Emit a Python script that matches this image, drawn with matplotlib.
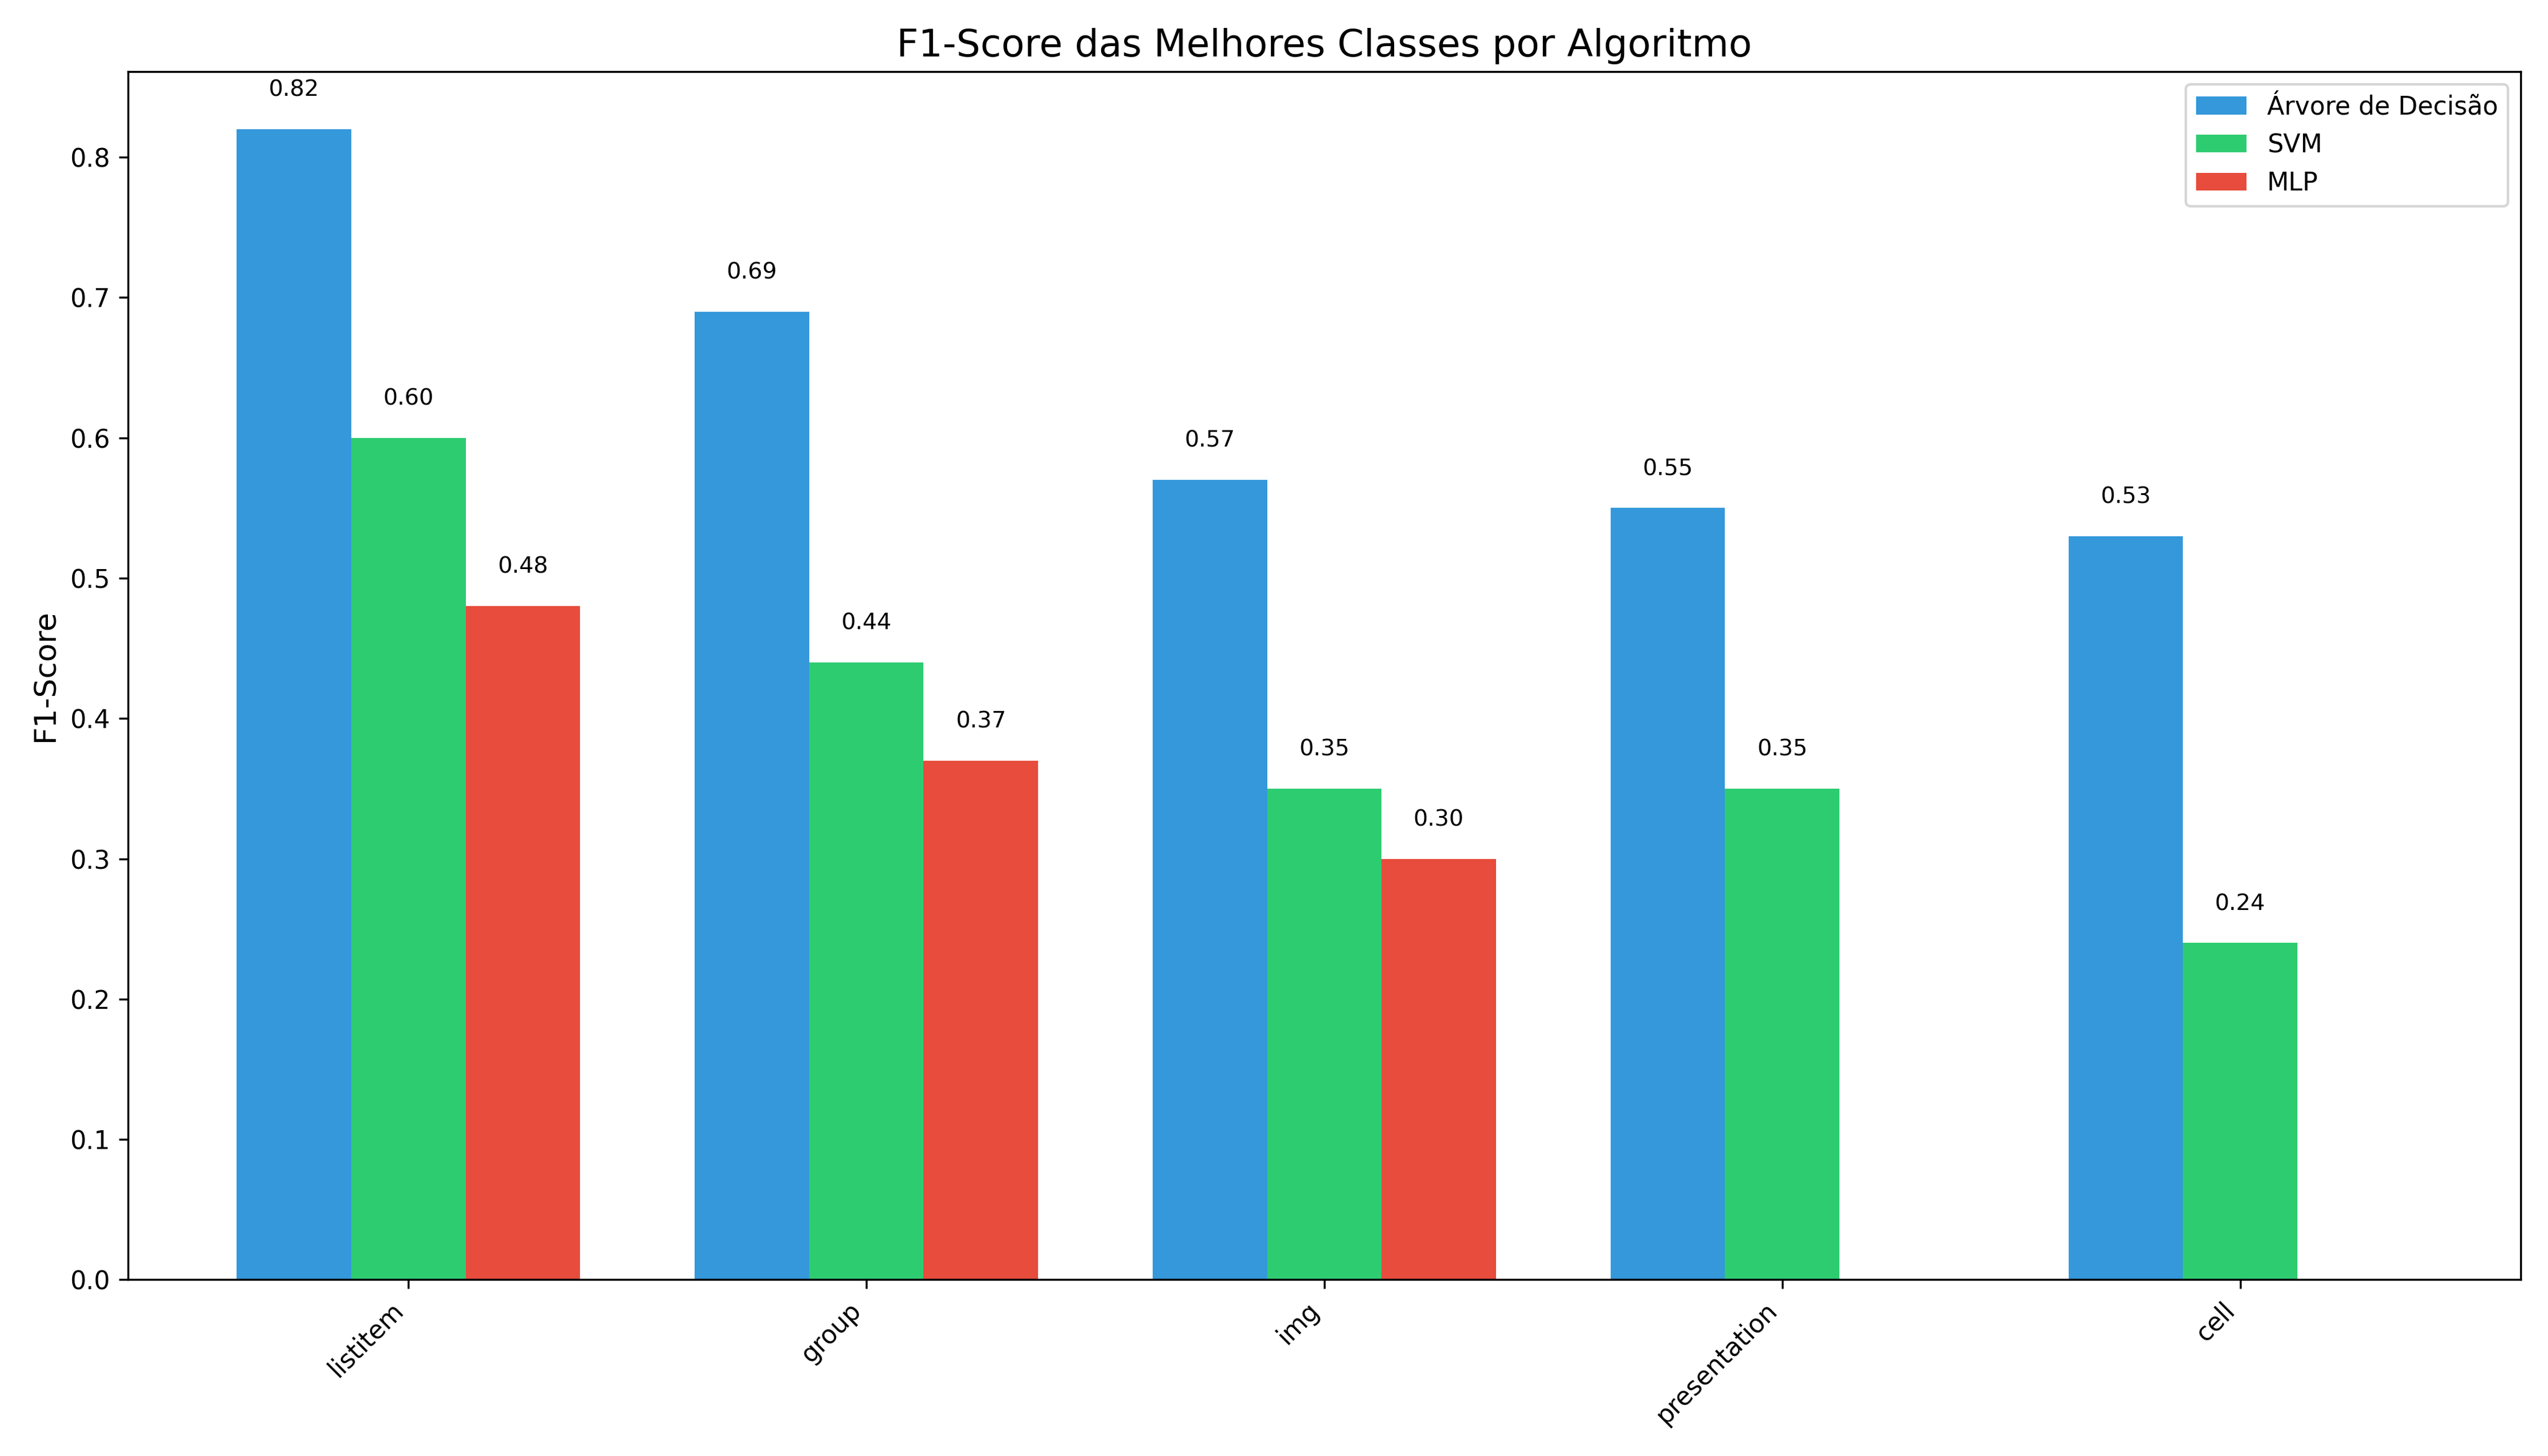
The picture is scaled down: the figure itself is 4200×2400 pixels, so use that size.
import numpy as np
import matplotlib
matplotlib.use('Agg')
from matplotlib import pyplot as plt

classes = ['listitem', 'group', 'img', 'presentation', 'cell']
arvore = [0.82, 0.69, 0.57, 0.55, 0.53]
svm = [0.60, 0.44, 0.35, 0.35, 0.24]
mlp = [0.48, 0.37, 0.30, 0.0, 0.0]
algoritmos = ['Árvore de Decisão', 'SVM', 'MLP']
cores = ['#3498db', '#2ecc71', '#e74c3c']

x = np.arange(len(classes))
w = 0.25

fig, ax = plt.subplots(figsize=(14, 8))
for i, (vals, nome, cor) in enumerate(zip([arvore, svm, mlp], algoritmos, cores)):
    bars = ax.bar(x + (i - 1) * w, vals, w, label=nome, color=cor)
    for b, v in zip(bars, vals):
        if v > 0:
            ax.text(b.get_x() + b.get_width() / 2, v + 0.02, f'{v:.2f}',
                    ha='center', va='bottom', fontsize=9)

ax.set_title('F1-Score das Melhores Classes por Algoritmo', fontsize=15)
ax.set_ylabel('F1-Score', fontsize=12)
ax.set_xticks(x)
ax.set_xticklabels(classes, rotation=45, ha='right')
ax.legend(loc='upper right')

plt.tight_layout()
plt.savefig('out.png', dpi=300)
